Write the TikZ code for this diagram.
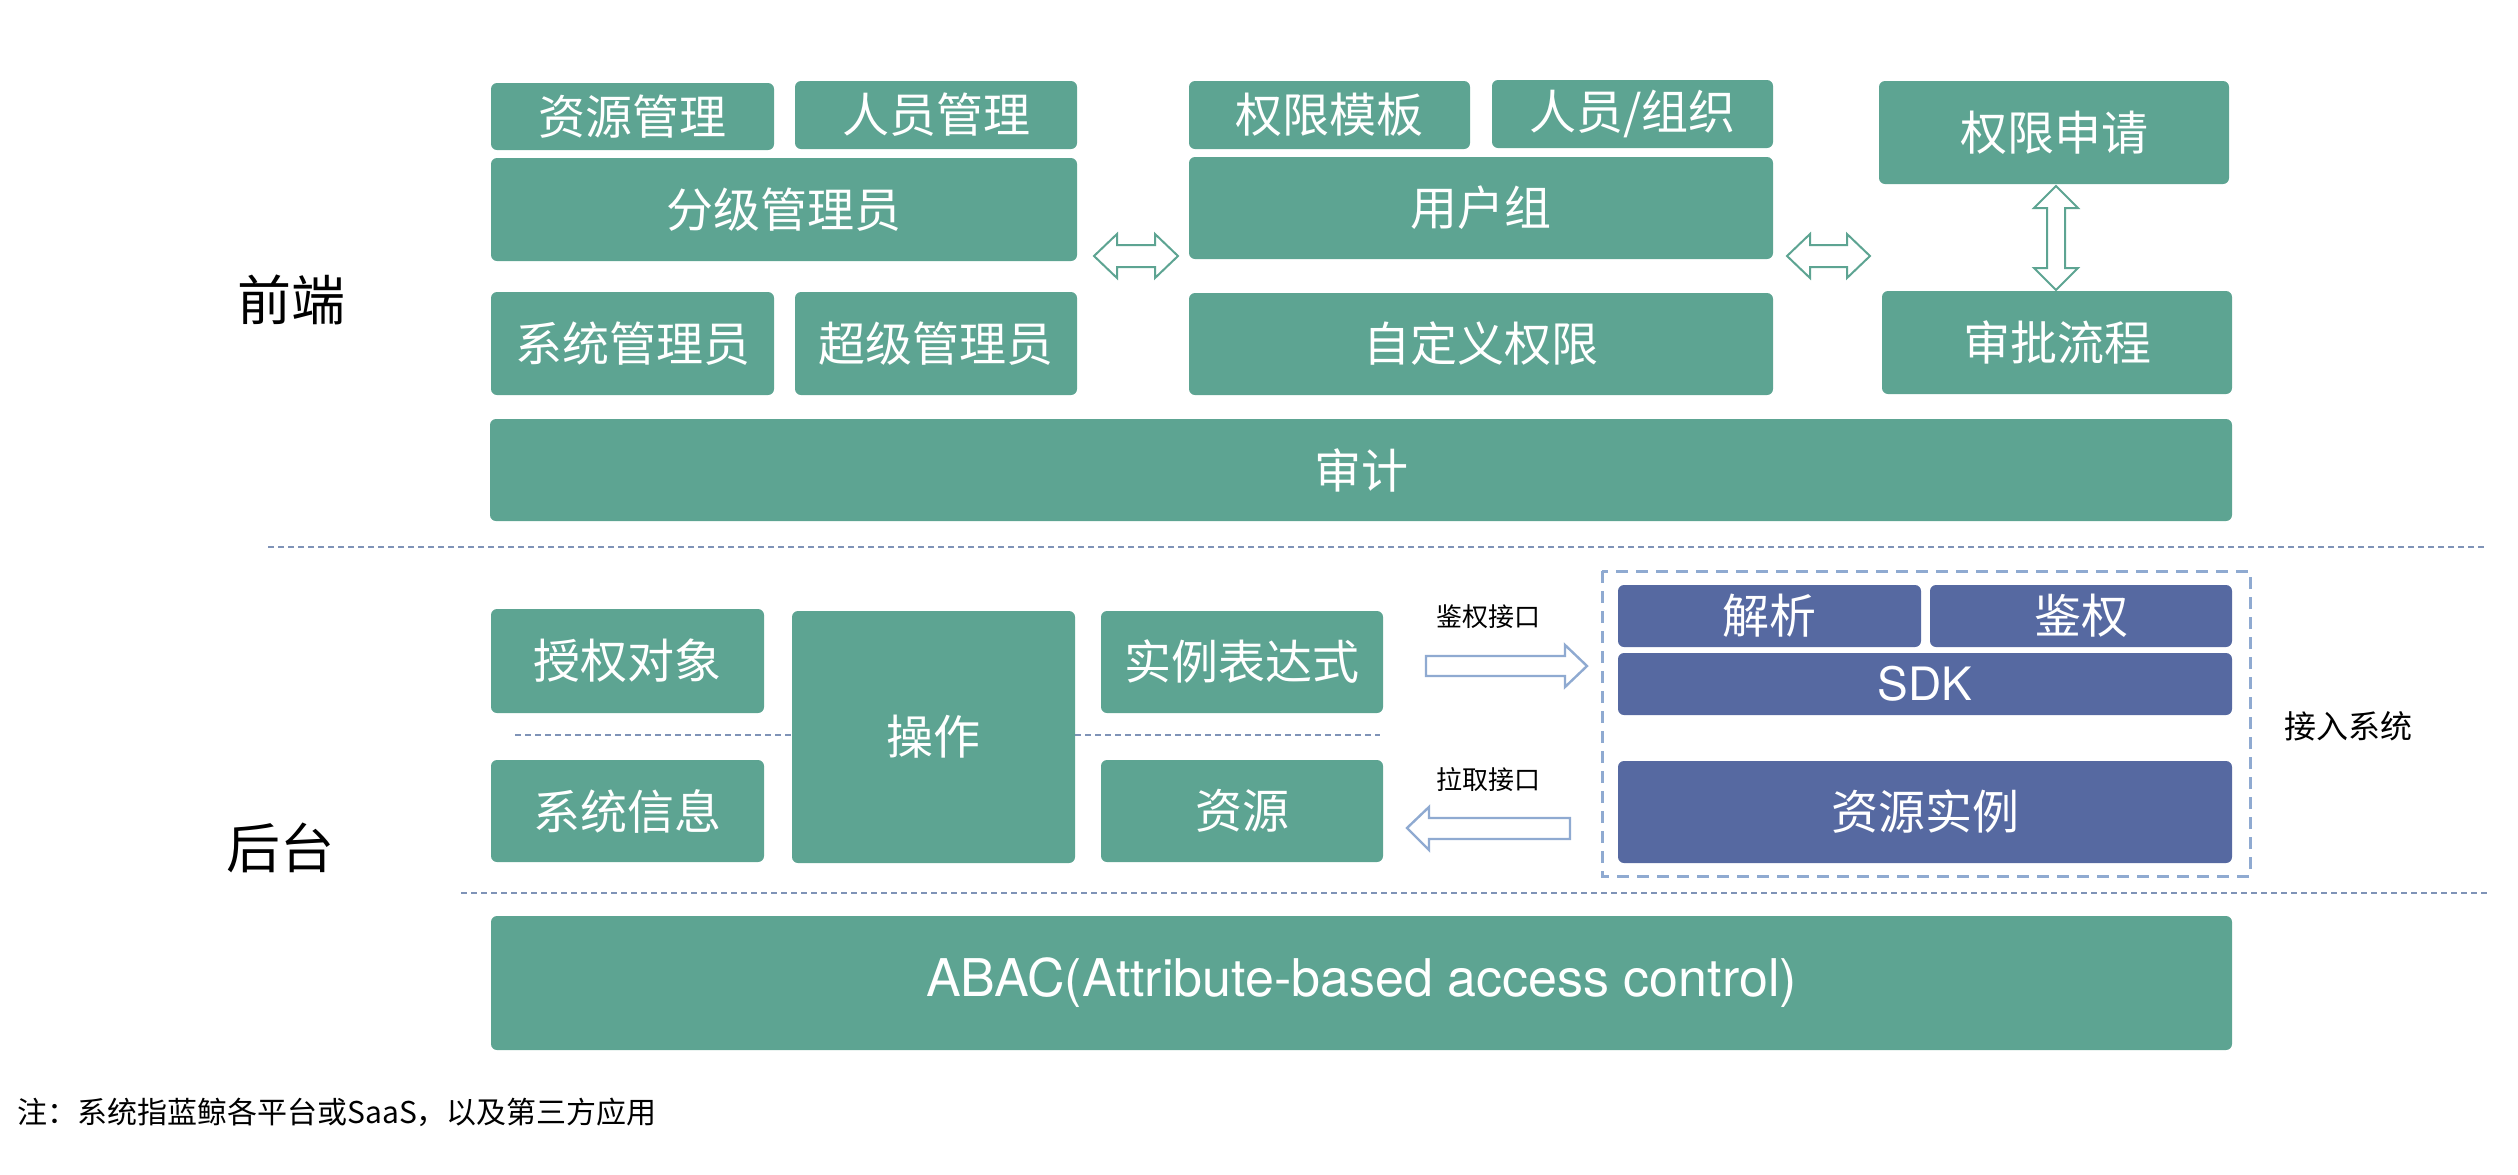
\documentclass[tikz,border=0pt]{standalone}
\usepackage{fontspec}
\setmainfont{Noto Sans CJK SC}
\newfontfamily\latinfont{TeX Gyre Heros}
\definecolor{boxgreen}{HTML}{5DA492}
\definecolor{boxblue}{HTML}{5669A1}
\definecolor{lightblue}{HTML}{8FAAD1}
\definecolor{sepline}{HTML}{7F93B7}
\begin{document}
\begin{tikzpicture}[x=0.5pt,y=-0.5pt,
  gbox/.style={fill=boxgreen, rounded corners=3pt, text=white, inner sep=0pt,
    font=\fontsize{23.5pt}{28pt}\selectfont},
  bbox/.style={gbox, fill=boxblue},
  sz/.style 2 args={minimum width=#1*0.5pt, minimum height=#2*0.5pt},
  sepdash/.style={draw=sepline, line width=0.8pt, dash pattern=on 3pt off 2pt},
  greenarrow/.style={draw=boxgreen, fill=white, line width=1pt, line join=miter},
  bluearrow/.style={draw=lightblue, fill=white, line width=1.2pt, line join=miter},
  sidelabel/.style={font=\fontsize{27pt}{32pt}\selectfont},
  smalllabel/.style={font=\fontsize{13pt}{16pt}\selectfont},
]
\useasboundingbox (0,0) rectangle (2518,1174);

% separators
\draw[sepdash] (268,547) -- (2487,547);
\draw[sepdash] (461,893) -- (2487,893);
\draw[sepdash] (515,735) -- (1380,735);

% side labels
\node[sidelabel] (fe) at (291,300) {前端};
\node[sidelabel] (be) at (280,848) {后台};

% front end
\node[gbox, sz={283}{67}] (zygl) at (632.5,116.5) {资源管理};
\node[gbox, sz={282}{68}] (rygl) at (936,115) {人员管理};
\node[gbox, sz={281}{68}] (qxmb) at (1329.5,115) {权限模板};
\node[gbox, sz={281}{68}] (ryzz) at (1632.5,114) {人员/组织};
\node[gbox, sz={586}{103}] (fjgly) at (784,209.5) {分级管理员};
\node[gbox, sz={584}{102}] (yhz) at (1481,208) {用户组};
\node[gbox, sz={283}{103}] (xtgly) at (632.5,343.5) {系统管理员};
\node[gbox, sz={282}{103}] (cjgly) at (936,343.5) {超级管理员};
\node[gbox, sz={584}{102}] (zdyqx) at (1481,344) {自定义权限};
\node[gbox, sz={350}{103}] (qxsq) at (2054,132.5) {权限申请};
\node[gbox, sz={350}{103}] (splc) at (2057,342.5) {审批流程};
\node[gbox, sz={1742}{102}] (sj) at (1361,470) {审计};

% green hollow double arrows
\draw[greenarrow] (1094,256) -- (1117,234) -- (1117,245) -- (1155,245) -- (1155,234)
  -- (1178,256) -- (1155,278) -- (1155,267) -- (1117,267) -- (1117,278) -- cycle;
\draw[greenarrow] (1787,256) -- (1810,234) -- (1810,245) -- (1847,245) -- (1847,234)
  -- (1870,256) -- (1847,278) -- (1847,267) -- (1810,267) -- (1810,278) -- cycle;
\draw[greenarrow] (2056,186) -- (2078,208) -- (2065,208) -- (2065,268) -- (2078,268)
  -- (2056,290) -- (2034,268) -- (2047,268) -- (2047,208) -- (2034,208) -- cycle;

% back end
\node[gbox, sz={273}{104}] (sqdx) at (627.5,661) {授权对象};
\node[gbox, sz={283}{252}] (cz) at (933.5,737) {操作};
\node[gbox, sz={282}{102}] (slbds) at (1242,662) {实例表达式};
\node[gbox, sz={273}{102}] (xtxx) at (627.5,811) {系统信息};
\node[gbox, sz={282}{102}] (zy) at (1242,811) {资源};

% interfaces
\node[smalllabel] (jqjk) at (1488,617) {鉴权接口};
\node[smalllabel] (lqjk) at (1488,780) {拉取接口};
\draw[bluearrow] (1426,656) -- (1565,656) -- (1565,645) -- (1587,666) -- (1565,687)
  -- (1565,676) -- (1426,676) -- cycle;
\draw[bluearrow] (1570,818) -- (1429,818) -- (1429,807) -- (1407,828) -- (1429,850)
  -- (1429,839) -- (1570,839) -- cycle;

% access system
\draw[draw=lightblue, line width=1.5pt, dash pattern=on 6pt off 4pt]
  (1602,571) rectangle (2250,876);
\node[bbox, sz={303}{62}] (jx) at (1769.5,616) {解析};
\node[bbox, sz={302}{62}] (jq) at (2081,616) {鉴权};
\node[bbox, sz={614}{62}, font=\latinfont\fontsize{23pt}{28pt}\selectfont] (sdk) at (1925,684) {SDK};
\node[bbox, sz={614}{102}] (zysl) at (1925,812) {资源实例};
\node[font=\fontsize{16pt}{19pt}\selectfont] (jrxt) at (2348,726) {接入系统};

% ABAC
\node[gbox, sz={1741}{134}, font=\latinfont\fontsize{26pt}{31pt}\selectfont] (abac) at (1361.5,983)
  {ABAC(Attribute-based access control)};

% footnote
\node[anchor=west, inner sep=0pt, font=\fontsize{15pt}{18pt}\selectfont] (note) at (17,1112)
  {注：系统指蓝鲸各平台或SaaS，以及第三方应用};
\end{tikzpicture}
\end{document}
